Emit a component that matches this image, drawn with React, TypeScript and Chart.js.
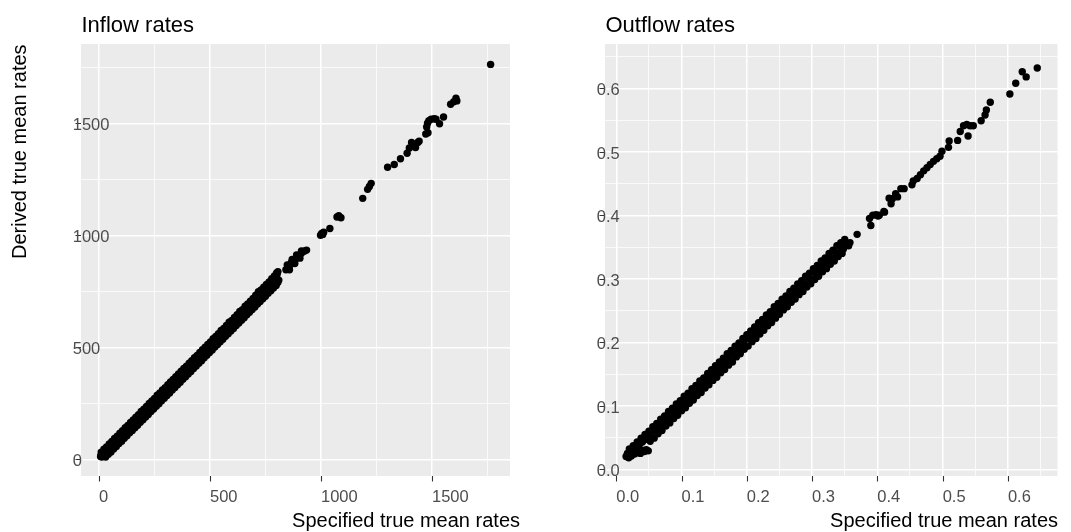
import { useEffect, useRef } from "react";
import { Chart, registerables } from "chart.js";

Chart.register(...registerables);

// ---------- DATA ----------
// Inflow panel: points along the middle of the dense band and the sparse high values
const inflowX = [
  7, 9, 12, 14, 17, 20, 22, 26, 30, 33, 37, 41, 45, 48, 52, 56, 60, 64, 68, 72, 76, 80, 85, 90, 95, 100,
  105, 110, 115, 120, 126, 132, 138, 144, 150, 156, 162, 168, 174, 180, 186, 192, 198, 204, 210, 216,
  222, 228, 234, 240, 246, 252, 258, 264, 270, 276, 282, 288, 294, 300, 306, 312, 318, 324, 330, 336,
  342, 348, 354, 360, 366, 372, 378, 384, 390, 396, 402, 408, 414, 420, 426, 432, 438, 444, 450, 456,
  462, 468, 474, 480, 486, 492, 498, 504, 510, 516, 522, 528, 534, 540, 546, 552, 558, 564, 570, 576,
  582, 588, 594, 600, 606, 612, 618, 624, 630, 636, 642, 648, 654, 660, 666, 672, 678, 684, 690, 696,
  702, 708, 714, 720, 726, 732, 738, 744, 750, 756, 762, 768, 774, 780, 786, 790, 795, 800, 803, 806,
  798, 810,
  842, 852, 860, 866, 872, 880, 886, 893, 900, 908, 916, 926, 935, 848, 870, 890, 912, 858, 882, 905,
  998, 1003, 1008, 1012, 1040, 1072, 1080, 1090,
  1188, 1210, 1218, 1226,
  1300, 1330, 1358, 1388, 1398, 1408, 1414, 1426, 1436, 1442,
  1472, 1482, 1476, 1480, 1486, 1496, 1510, 1518, 1534, 1552,
  1584, 1598, 1608, 1612,
  1764,
];
const inflowY = [
  13, 18, 10, 20, 14, 24, 17, 22, 31, 26, 35, 38, 42, 47, 50, 53, 61, 58, 66, 73, 71, 82, 84, 88, 97, 96,
  107, 108, 118, 117, 126, 135, 136, 146, 148, 158, 160, 170, 172, 183, 184, 193, 197, 207, 209, 218,
  221, 231, 232, 243, 244, 256, 257, 266, 268, 279, 281, 292, 291, 303, 304, 316, 315, 327, 328, 340,
  339, 352, 351, 365, 363, 376, 375, 389, 387, 401, 398, 413, 411, 426, 423, 438, 436, 451, 448, 462,
  459, 475, 471, 487, 484, 498, 496, 511, 507, 522, 520, 535, 531, 549, 543, 560, 555, 575, 568, 582,
  580, 599, 593, 605, 604, 618, 616, 632, 628, 649, 642, 652, 653, 666, 664, 680, 677, 690, 689, 705,
  701, 716, 713, 745, 731, 738, 741, 752, 756, 762, 768, 775, 779, 786, 790, 795, 805, 815, 828, 838,
  782, 800,
  846, 858, 866, 878, 884, 890, 896, 902, 908, 916, 924, 930, 934, 868, 892, 912, 930, 846, 874, 898,
  1000, 1008, 1004, 1014, 1030, 1082, 1088, 1078,
  1165, 1205, 1218, 1232,
  1304, 1316, 1342, 1366, 1390, 1414, 1400, 1392, 1414, 1420,
  1452, 1458, 1484, 1500, 1512, 1518, 1520, 1518, 1498, 1528,
  1585, 1596, 1612, 1600,
  1763,
];
// Inflow panel: points on the upper edge of the dense band
const inflowUpperX = [
  10, 22, 34, 46, 58, 70, 82, 94, 106, 118, 130, 142, 154, 166, 178, 190, 202, 214, 226, 238, 250, 262,
  274, 286, 298, 310, 322, 334, 346, 358, 370, 382, 394, 406, 418, 430, 442, 454, 466, 478, 490, 502,
  514, 526, 538, 550, 562, 574, 586, 598, 610, 622, 634, 646, 658, 670, 682, 694, 706, 718, 730, 742,
  754, 766, 778, 790, 800,
];
const inflowUpperY = [
  32, 45, 55, 68, 80, 93, 103, 117, 128, 141, 151, 165, 176, 188, 199, 214, 224, 236, 249, 260, 272, 286,
  296, 309, 320, 333, 345, 356, 369, 381, 393, 405, 416, 429, 440, 454, 464, 477, 489, 500, 513, 524,
  538, 548, 561, 575, 584, 598, 612, 620, 633, 646, 660, 668, 683, 694, 706, 718, 732, 748, 756, 768,
  780, 792, 806, 818, 832,
];
// Inflow panel: points on the lower edge of the dense band
const inflowLowerX = [
  30, 42, 54, 66, 78, 90, 102, 114, 126, 138, 150, 162, 174, 186, 198, 210, 222, 234, 246, 258, 270, 282,
  294, 306, 318, 330, 342, 354, 366, 378, 390, 402, 414, 426, 438, 450, 462, 474, 486, 498, 510, 522,
  534, 546, 558, 570, 582, 594, 606, 618, 630, 642, 654, 666, 678, 690, 702, 714, 726, 738, 750, 762,
  774, 786, 798, 806,
];
const inflowLowerY = [
  10, 22, 33, 46, 57, 70, 81, 94, 105, 118, 128, 141, 152, 165, 176, 189, 200, 213, 224, 237, 248, 261,
  272, 285, 296, 309, 320, 333, 344, 357, 368, 381, 392, 405, 416, 429, 440, 453, 464, 477, 488, 501,
  512, 525, 536, 549, 560, 573, 584, 597, 608, 621, 632, 645, 656, 669, 680, 693, 704, 717, 728, 741,
  752, 765, 776, 790,
];

// Outflow panel: middle of the dense band and the sparse high values
const outflowX = [
  0.015, 0.017, 0.019, 0.021, 0.023, 0.026, 0.028, 0.031, 0.034, 0.037, 0.04, 0.043, 0.046, 0.049,
  0.03, 0.033, 0.036, 0.04, 0.044, 0.048, 0.052, 0.056, 0.06, 0.064, 0.068, 0.072, 0.076, 0.08, 0.084,
  0.088, 0.092, 0.096, 0.1, 0.104, 0.108, 0.112, 0.116, 0.12, 0.124, 0.128, 0.132, 0.136, 0.14, 0.144,
  0.148, 0.152, 0.156, 0.16, 0.164, 0.168, 0.172, 0.176, 0.18, 0.184, 0.188, 0.192, 0.196, 0.2, 0.204,
  0.208, 0.212, 0.216, 0.22, 0.224, 0.228, 0.232, 0.236, 0.24, 0.244, 0.248, 0.252, 0.256, 0.26, 0.264,
  0.268, 0.272, 0.276, 0.28, 0.284, 0.288, 0.292, 0.296, 0.3, 0.304, 0.308, 0.312, 0.316, 0.32, 0.324,
  0.328, 0.332, 0.336, 0.34, 0.344, 0.348,
  0.352, 0.356, 0.358, 0.369, 0.388, 0.39, 0.393, 0.398, 0.403, 0.411, 0.41, 0.401,
  0.418, 0.421, 0.421, 0.423, 0.428, 0.431, 0.436, 0.441,
  0.453, 0.455, 0.461, 0.466, 0.471, 0.476, 0.481, 0.486, 0.491, 0.496, 0.499, 0.509, 0.51, 0.523,
  0.527, 0.532, 0.537, 0.539, 0.542, 0.547, 0.559, 0.565, 0.567, 0.573,
  0.603, 0.612, 0.622, 0.628, 0.645,
];
const outflowY = [
  0.02, 0.025, 0.018, 0.027, 0.021, 0.028, 0.024, 0.026, 0.029, 0.025, 0.03, 0.028, 0.031, 0.029,
  0.033, 0.037, 0.04, 0.043, 0.047, 0.05, 0.054, 0.06, 0.061, 0.067, 0.069, 0.075, 0.077, 0.083, 0.085,
  0.091, 0.093, 0.099, 0.101, 0.107, 0.108, 0.115, 0.116, 0.123, 0.124, 0.131, 0.132, 0.139, 0.14, 0.147,
  0.148, 0.155, 0.156, 0.164, 0.164, 0.172, 0.172, 0.18, 0.18, 0.188, 0.188, 0.197, 0.196, 0.206, 0.205,
  0.213, 0.212, 0.221, 0.221, 0.229, 0.229, 0.237, 0.237, 0.245, 0.245, 0.254, 0.253, 0.263, 0.26, 0.27,
  0.269, 0.277, 0.276, 0.285, 0.284, 0.293, 0.291, 0.301, 0.299, 0.31, 0.309, 0.318, 0.317, 0.325, 0.324,
  0.333, 0.332, 0.341, 0.34, 0.349, 0.347,
  0.356, 0.352, 0.357, 0.37, 0.395, 0.384, 0.4, 0.401, 0.4, 0.405, 0.406, 0.399,
  0.427, 0.418, 0.426, 0.426, 0.434, 0.429, 0.442, 0.442,
  0.448, 0.454, 0.458, 0.464, 0.47, 0.475, 0.48, 0.485, 0.489, 0.493, 0.501, 0.507, 0.517, 0.518,
  0.532, 0.541, 0.543, 0.525, 0.541, 0.541, 0.549, 0.558, 0.566, 0.578,
  0.591, 0.608, 0.626, 0.618, 0.632,
];
// Outflow panel: upper edge of the dense band
const outflowUpperX = [
  0.02, 0.026, 0.032, 0.038, 0.044, 0.05, 0.056, 0.062, 0.068, 0.074, 0.08, 0.086, 0.092, 0.098, 0.104,
  0.11, 0.116, 0.122, 0.128, 0.134, 0.14, 0.146, 0.152, 0.158, 0.164, 0.17, 0.176, 0.182, 0.188, 0.194,
  0.2, 0.206, 0.212, 0.218, 0.224, 0.23, 0.236, 0.242, 0.248, 0.254, 0.26, 0.266, 0.272, 0.278, 0.284,
  0.29, 0.296, 0.302, 0.308, 0.314, 0.32, 0.326, 0.332, 0.338, 0.344, 0.35,
];
const outflowUpperY = [
  0.032, 0.037, 0.043, 0.049, 0.055, 0.06, 0.067, 0.072, 0.079, 0.084, 0.091, 0.096, 0.103, 0.108, 0.115,
  0.12, 0.127, 0.132, 0.139, 0.144, 0.151, 0.157, 0.163, 0.169, 0.175, 0.182, 0.187, 0.194, 0.199, 0.206,
  0.212, 0.218, 0.224, 0.231, 0.236, 0.243, 0.248, 0.256, 0.261, 0.268, 0.273, 0.28, 0.285, 0.292, 0.297,
  0.304, 0.309, 0.316, 0.321, 0.328, 0.333, 0.34, 0.345, 0.352, 0.357, 0.362,
];
// Outflow panel: lower edge of the dense band
const outflowLowerX = [
  0.052, 0.058, 0.064, 0.07, 0.076, 0.082, 0.088, 0.094, 0.1, 0.106, 0.112, 0.118, 0.124, 0.13, 0.136,
  0.142, 0.148, 0.154, 0.16, 0.166, 0.172, 0.178, 0.184, 0.19, 0.196, 0.202, 0.208, 0.214, 0.22, 0.226,
  0.232, 0.238, 0.244, 0.25, 0.256, 0.262, 0.268, 0.274, 0.28, 0.286, 0.292, 0.298, 0.304, 0.31, 0.316,
  0.322, 0.328, 0.334, 0.34, 0.346,
];
const outflowLowerY = [
  0.044, 0.049, 0.056, 0.061, 0.068, 0.073, 0.08, 0.085, 0.092, 0.097, 0.104, 0.109, 0.116, 0.121, 0.128,
  0.133, 0.14, 0.145, 0.152, 0.157, 0.164, 0.169, 0.177, 0.182, 0.189, 0.194, 0.201, 0.206, 0.213, 0.219,
  0.226, 0.231, 0.238, 0.244, 0.251, 0.256, 0.263, 0.268, 0.275, 0.28, 0.287, 0.292, 0.299, 0.304, 0.311,
  0.316, 0.323, 0.328, 0.335, 0.34,
];

const inflowMajorTicks = [0, 500, 1000, 1500];
const inflowMinorTicks = [250, 750, 1250, 1750];
const inflowTickLabels = ["0", "500", "1000", "1500"];

const outflowMajorTicks = [0, 0.1, 0.2, 0.3, 0.4, 0.5, 0.6];
const outflowMinorTicks = [0.05, 0.15, 0.25, 0.35, 0.45, 0.55, 0.65];
const outflowTickLabels = ["0.0", "0.1", "0.2", "0.3", "0.4", "0.5", "0.6"];

const FONT = '"Liberation Sans", Arial, Helvetica, sans-serif';

interface PanelOpts {
  title: string;
  xs: number[];
  ys: number[];
  major: number[];
  minor: number[];
  labels: string[];
  xMin: number;
  xMax: number;
  yMin: number;
  yMax: number;
  padding: { left: number; right: number; top: number; bottom: number };
  xTitleRight: number;
  yTitle?: { x: number; y: number };
}

function isMajor(major: number[], v: number) {
  return major.some((m) => Math.abs(m - v) < 1e-9);
}

function makeConfig(o: PanelOpts): any {
  const allTicks = [...o.major, ...o.minor].sort((a, b) => a - b);
  const gridOpts = {
    color: "#FFFFFF",
    lineWidth: (ctx: any) => (ctx.tick && isMajor(o.major, ctx.tick.value) ? 1.5 : 0.75),
    drawTicks: false,
  };
  const plugin = {
    id: "ggpanel",
    beforeDraw(chart: any) {
      const { ctx, chartArea: a } = chart;
      ctx.save();
      ctx.fillStyle = "#FFFFFF";
      ctx.fillRect(0, 0, chart.width, chart.height);
      ctx.fillStyle = "#EBEBEB";
      ctx.fillRect(a.left, a.top, a.right - a.left, a.bottom - a.top);
      ctx.restore();
    },
    afterDraw(chart: any) {
      const { ctx, chartArea: a } = chart;
      const xs = chart.scales.x;
      const ys = chart.scales.y;
      ctx.save();
      ctx.strokeStyle = "#333333";
      ctx.lineWidth = 1.1;
      ctx.beginPath();
      o.major.forEach((v) => {
        const px = Math.round(xs.getPixelForValue(v)) + 0.5;
        ctx.moveTo(px, a.bottom);
        ctx.lineTo(px, a.bottom + 5.5);
        const py = Math.round(ys.getPixelForValue(v)) + 0.5;
        ctx.moveTo(a.left - 5.5, py);
        ctx.lineTo(a.left, py);
      });
      ctx.stroke();
      ctx.fillStyle = "#4D4D4D";
      ctx.font = `16.5px ${FONT}`;
      ctx.textAlign = "left";
      ctx.textBaseline = "alphabetic";
      o.major.forEach((v, i) => {
        const px = xs.getPixelForValue(v);
        ctx.fillText(o.labels[i], px, 502);
        const py = ys.getPixelForValue(v);
        ctx.fillText(o.labels[i], a.left - 8.3, py + 7);
      });
      ctx.fillStyle = "#000000";
      ctx.font = `22px ${FONT}`;
      ctx.fillText(o.title, a.left + 0.5, 31.5);
      ctx.font = `20px ${FONT}`;
      ctx.textAlign = "right";
      ctx.fillText("Specified true mean rates", o.xTitleRight, 526.5);
      if (o.yTitle) {
        ctx.translate(o.yTitle.x, o.yTitle.y);
        ctx.rotate(-Math.PI / 2);
        ctx.textAlign = "center";
        ctx.fillText("Derived true mean rates", 0, 0);
      }
      ctx.restore();
    },
  };
  return {
    type: "scatter",
    data: {
      datasets: [
        {
          data: o.xs.map((x, i) => ({ x, y: o.ys[i] })),
          pointRadius: 3.7,
          pointHoverRadius: 3.7,
          pointBackgroundColor: "#000000",
          pointBorderWidth: 0,
          borderWidth: 0,
        },
      ],
    },
    options: {
      responsive: false,
      animation: false,
      events: [],
      layout: { padding: o.padding },
      plugins: { legend: { display: false }, tooltip: { enabled: false }, title: { display: false } },
      scales: {
        x: {
          type: "linear",
          min: o.xMin,
          max: o.xMax,
          afterBuildTicks: (s: any) => {
            s.ticks = allTicks.map((v) => ({ value: v }));
          },
          afterFit: (s: any) => {
            s.height = 0;
          },
          ticks: { display: false },
          grid: gridOpts,
          border: { display: false },
          title: { display: false },
        },
        y: {
          type: "linear",
          min: o.yMin,
          max: o.yMax,
          afterBuildTicks: (s: any) => {
            s.ticks = allTicks.map((v) => ({ value: v }));
          },
          afterFit: (s: any) => {
            s.width = 0;
          },
          ticks: { display: false },
          grid: gridOpts,
          border: { display: false },
          title: { display: false },
        },
      },
    },
    plugins: [plugin],
  };
}

export default function App() {
  const leftRef = useRef<HTMLCanvasElement>(null);
  const rightRef = useRef<HTMLCanvasElement>(null);

  useEffect(() => {
    const left = new Chart(
      leftRef.current!,
      makeConfig({
        title: "Inflow rates",
        xs: [...inflowX, ...inflowUpperX, ...inflowLowerX],
        ys: [...inflowY, ...inflowUpperY, ...inflowLowerY],
        major: inflowMajorTicks,
        minor: inflowMinorTicks,
        labels: inflowTickLabels,
        xMin: -81.1,
        xMax: 1851.4,
        yMin: -74.6,
        yMax: 1854,
        padding: { left: 81, right: 25, top: 44, bottom: 56 },
        xTitleRight: 520,
        yTitle: { x: 25.5, y: 151.7 },
      })
    );
    const right = new Chart(
      rightRef.current!,
      makeConfig({
        title: "Outflow rates",
        xs: [...outflowX, ...outflowUpperX, ...outflowLowerX],
        ys: [...outflowY, ...outflowUpperY, ...outflowLowerY],
        major: outflowMajorTicks,
        minor: outflowMinorTicks,
        labels: outflowTickLabels,
        xMin: -0.0173,
        xMax: 0.676,
        yMin: -0.0106,
        yMax: 0.6698,
        padding: { left: 70, right: 13.5, top: 44, bottom: 56 },
        xTitleRight: 523,
      })
    );
    return () => {
      left.destroy();
      right.destroy();
    };
  }, []);

  return (
    <div style={{ position: "absolute", left: 0, top: 0, width: 1071, height: 532, background: "#FFFFFF" }}>
      <canvas
        ref={leftRef}
        width={535}
        height={532}
        style={{ position: "absolute", left: 0, top: 0, width: 535, height: 532 }}
      />
      <canvas
        ref={rightRef}
        width={536}
        height={532}
        style={{ position: "absolute", left: 535, top: 0, width: 536, height: 532 }}
      />
    </div>
  );
}
